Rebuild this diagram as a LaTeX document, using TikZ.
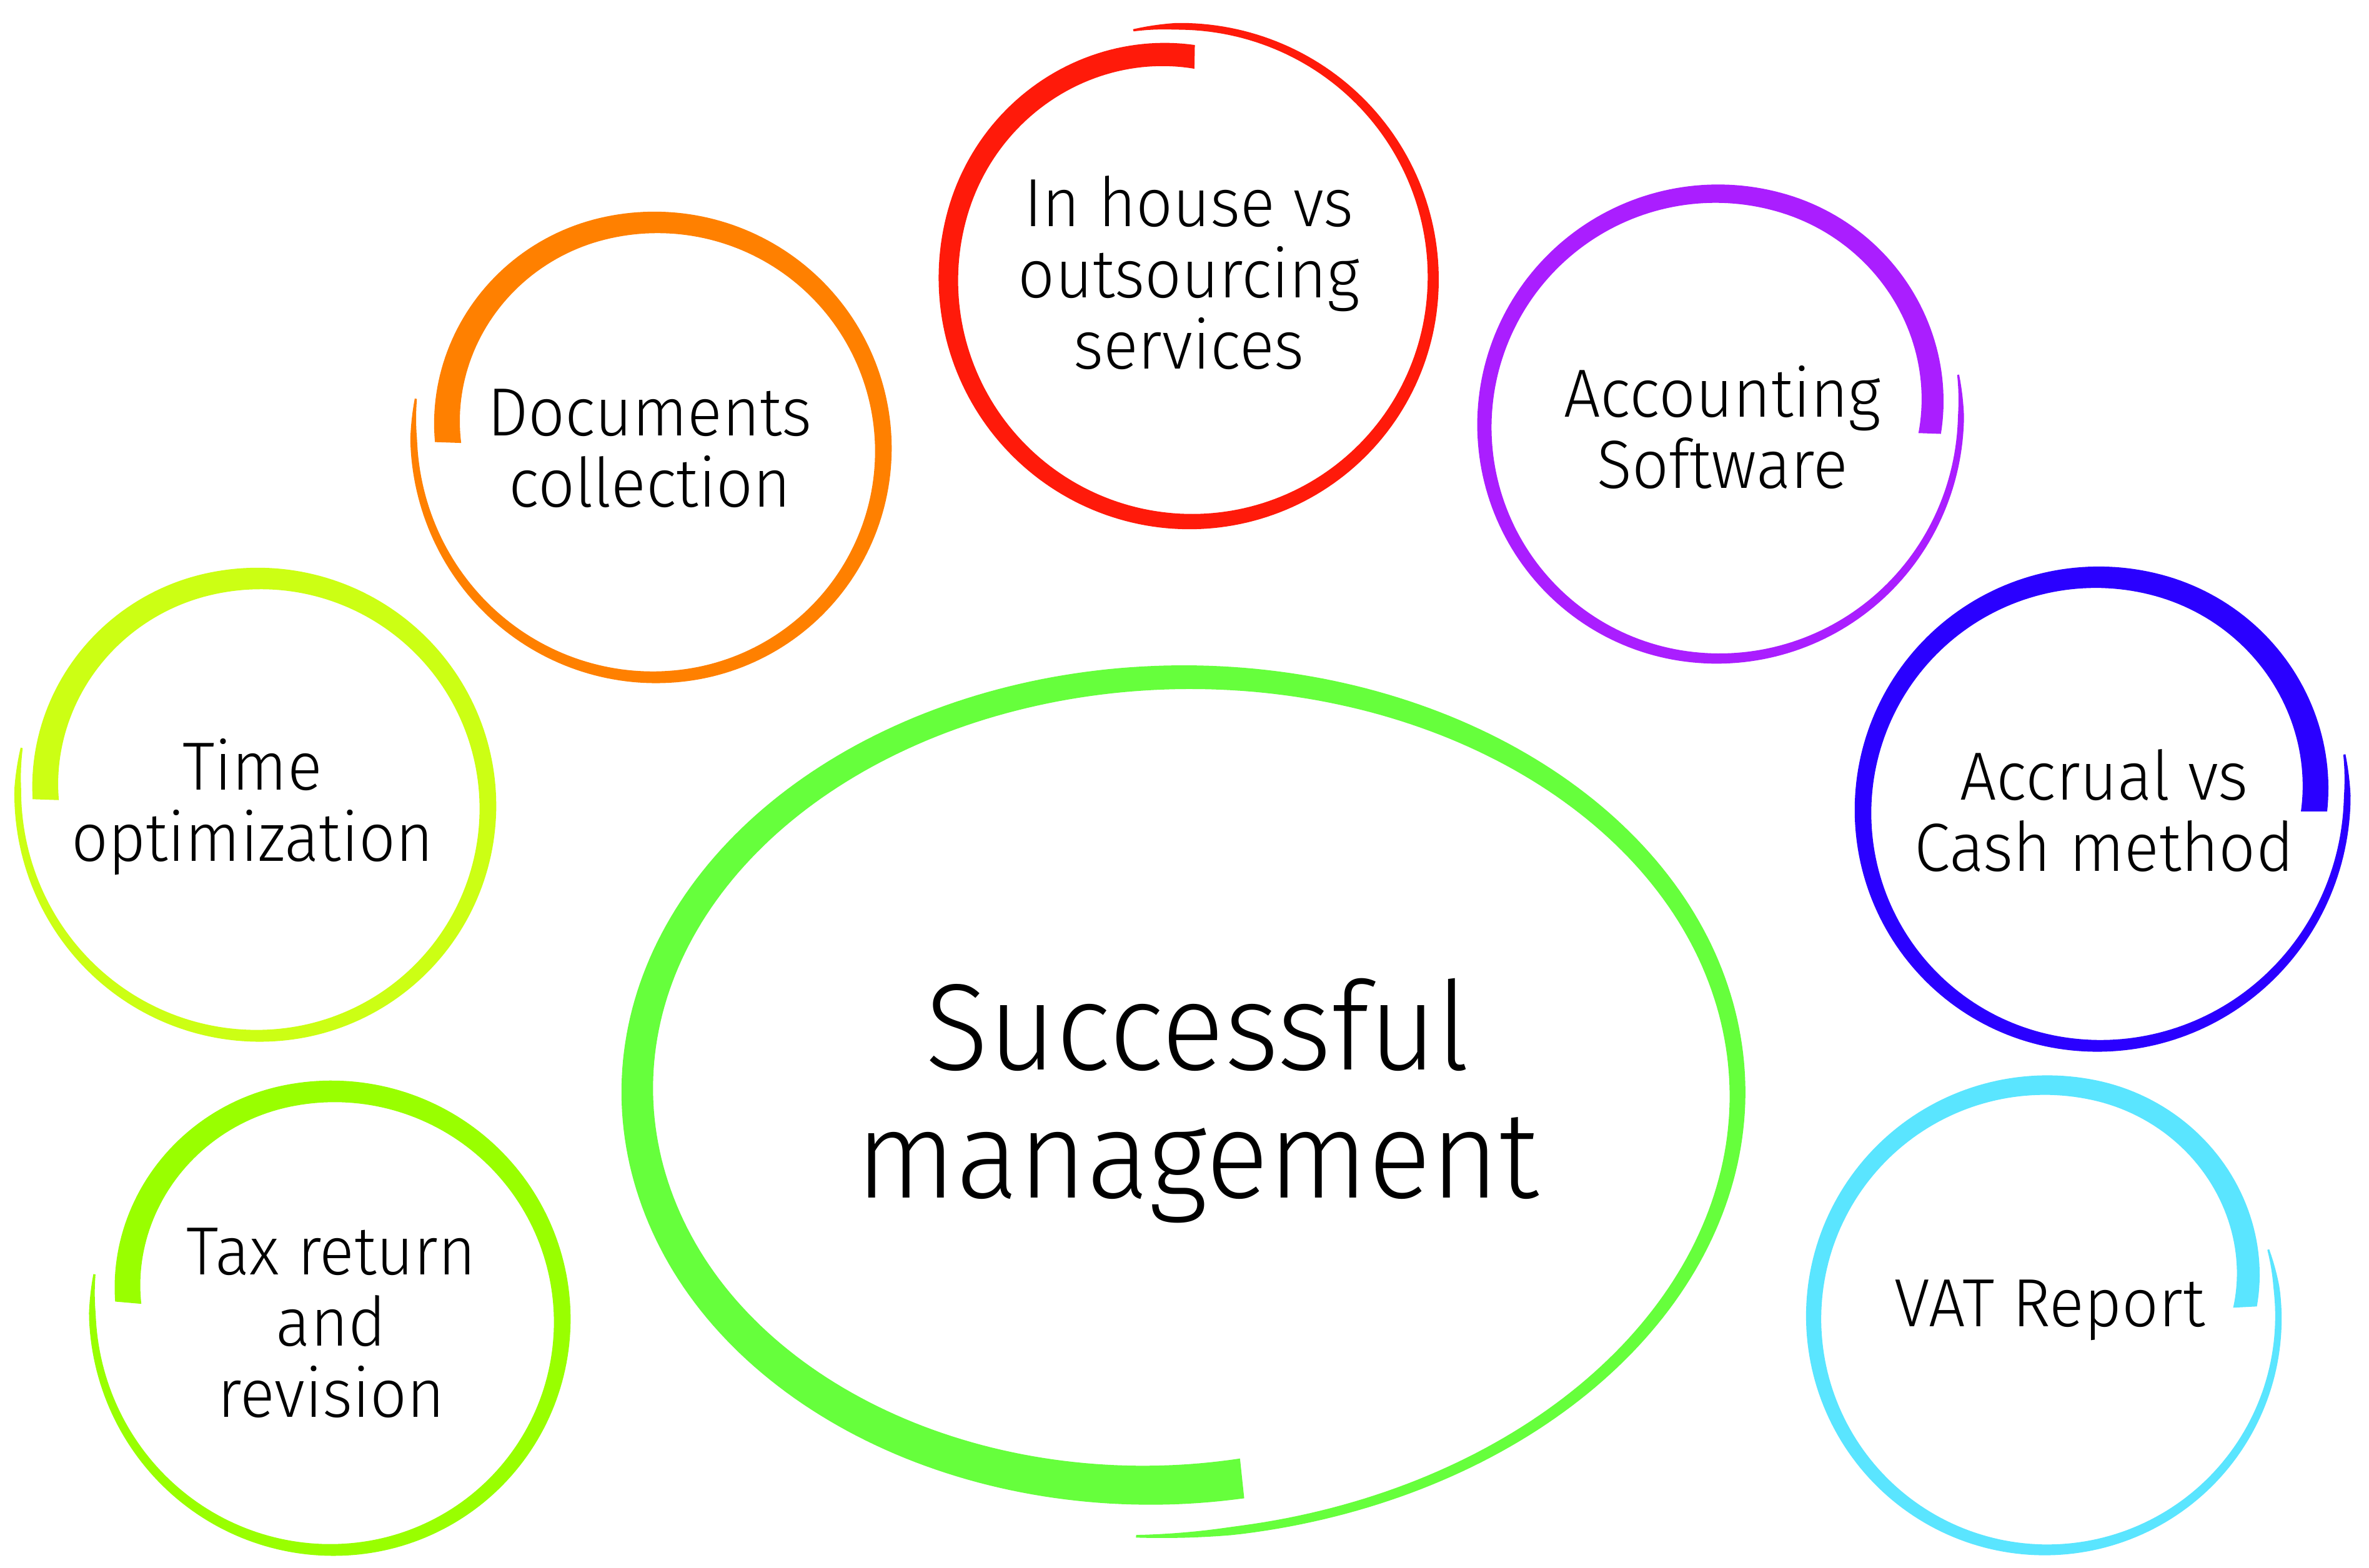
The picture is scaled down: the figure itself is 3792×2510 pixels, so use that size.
\documentclass[tikz,border=0pt]{standalone}
\usepackage{fontspec}
\setmainfont{Fira Sans Light}[FakeStretch=0.95]
\definecolor{ringred}{HTML}{FF1A0A}
\definecolor{ringorange}{HTML}{FF8000}
\definecolor{ringlime}{HTML}{CCFF14}
\definecolor{ringleaf}{HTML}{99FF00}
\definecolor{ringgreen}{HTML}{66FF3C}
\definecolor{ringpurple}{HTML}{AA1EFF}
\definecolor{ringblue}{HTML}{2A00FF}
\definecolor{ringcyan}{HTML}{5AE5FF}

% parameters of one brush ring (pixel units, y measured downwards)
\pgfkeys{/ring/.is family, /ring,
  cx/.store in=\rcx, cy/.store in=\rcy, rx/.store in=\rrx, ry/.store in=\rry,
  a/.store in=\ra, b/.store in=\rb, w/.store in=\rw, v/.store in=\rv,
  ds/.store in=\rds, de/.store in=\rde, col/.store in=\rcol, n/.store in=\rn,
  n=240}
% progress along the stroke, radial drift and half width of the brush
\pgfmathdeclarefunction{ringu}{1}{\pgfmathparse{(#1-\ra)/(\rb-\ra)}}
\pgfmathdeclarefunction{ringsq}{1}{\pgfmathparse{#1*#1}}
\pgfmathdeclarefunction{ringoff}{1}{\pgfmathparse{\rds*ringsq(max(0,1-ringu(#1)/0.2))+\rde*ringsq(max(0,(ringu(#1)-0.7)/0.3))}}
\pgfmathdeclarefunction{ringhw}{1}{\pgfmathparse{0.5*(\rw+(\rv-\rw)*ringu(#1))*min(1,0.35+25*(1-ringu(#1)))}}
\newcommand\brushring[1]{%
  \pgfkeys{/ring/.cd,#1}%
  \fill[fill=\rcol]
    plot[domain=\ra:\rb, samples=\rn, variable=\t]
      ({\rcx+(\rrx+ringoff(\t)+ringhw(\t))*cos(\t)}, {-\rcy+(\rry+ringoff(\t)+ringhw(\t))*sin(\t)})
    -- plot[domain=\rb:\ra, samples=\rn, variable=\t]
      ({\rcx+(\rrx+ringoff(\t)-ringhw(\t))*cos(\t)}, {-\rcy+(\rry+ringoff(\t)-ringhw(\t))*sin(\t)})
    -- cycle;}

% fixed line boxes so every label keeps an exact line pitch
\newcommand\ringstrut{\rule[-8.4pt]{0pt}{32.4pt}}
\newcommand\hubstrut{\rule[-14.5pt]{0pt}{58.5pt}}
\tikzset{
  ringtext/.style={align=center, inner sep=0pt, text=black,
    font=\fontsize{31}{32.4}\selectfont},
  hubtext/.style={align=center, inner sep=0pt, text=black,
    font=\fontsize{56}{58.5}\selectfont}
}

\begin{document}
\begin{tikzpicture}[x=0.01cm, y=0.01cm]
\useasboundingbox (0,0) rectangle (3792,-2510);
\fill[white] (0,0) rectangle (3792,-2510);

% brush rings
\brushring{cx=1906, cy=447,  rx=388, ry=388, a=89,  b=463,  w=38, v=10, ds=-32, de=21, col=ringred}
\brushring{cx=1050, cy=720,  rx=364, ry=364, a=178, b=-192, w=42, v=10, ds=-31, de=29, col=ringorange}
\brushring{cx=415,  cy=1292, rx=366, ry=366, a=178, b=-194, w=42, v=10, ds=-24, de=26, col=ringlime}
\brushring{cx=533,  cy=2114, rx=367, ry=367, a=175, b=-191, w=42, v=10, ds=-38, de=22, col=ringleaf}
\brushring{cx=2748, cy=682,  rx=372, ry=372, a=-2,  b=372,  w=36, v=9,  ds=-31, de=23, col=ringpurple}
\brushring{cx=3357, cy=1299, rx=375, ry=375, a=0,   b=373,  w=42, v=10, ds=-28, de=31, col=ringblue}
\brushring{cx=3275, cy=2109, rx=372, ry=372, a=3,   b=377,  w=38, v=9,  ds=-53, de=0,  col=ringcyan}
\brushring{cx=1900, cy=1745, rx=880, ry=661, a=-84, b=-455, w=64, v=12, ds=-36, de=56, col=ringgreen, n=320}

% labels
\node[ringtext] (inhouse)  at (1903,-449)  {\ringstrut In house vs\\\ringstrut outsourcing\\\ringstrut services};
\node[ringtext] (docs)     at (1040,-727)  {\ringstrut Documents\\\ringstrut collection};
\node[ringtext] (time)     at (404,-1294)  {\ringstrut Time\\\ringstrut optimization};
\node[ringtext] (tax)      at (530,-2127)  {\ringstrut Tax return\\\ringstrut and\\\ringstrut revision};
\node[ringtext] (software) at (2757,-697)  {\ringstrut Accounting\\\ringstrut Software};
\node[ringtext] (accrual)  at (3368,-1310) {\ringstrut Accrual vs\\\ringstrut Cash method};
\node[ringtext] (vat)      at (3281,-2096) {\ringstrut VAT Report};
\node[hubtext]  (hub)      at (1917,-1763) {\hubstrut Successful\\\hubstrut management};
\end{tikzpicture}
\end{document}
